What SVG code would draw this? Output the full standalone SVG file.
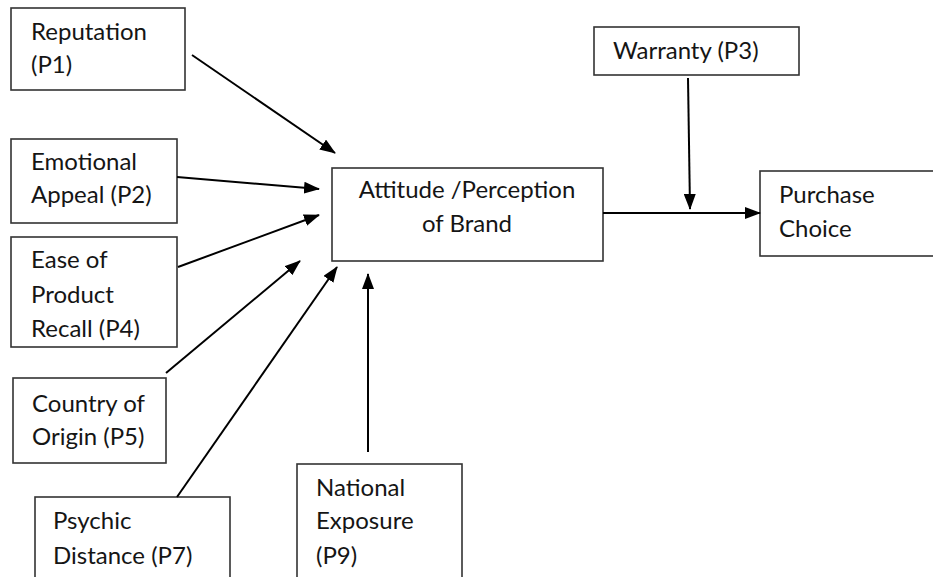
<svg xmlns="http://www.w3.org/2000/svg" width="933" height="577" viewBox="0 0 933 577">
<defs>
<marker id="ah" markerWidth="16" markerHeight="12" viewBox="0 0 16 12" refX="15" refY="6" orient="auto" markerUnits="userSpaceOnUse">
<path d="M0,0 L16,6 L0,12 Z" fill="#000"/>
</marker>
</defs>
<style>
.box{fill:#fff;stroke:#333;stroke-width:1.6}
.t{font-family:Lato,"Open Sans","Liberation Sans",sans-serif;font-size:24px;fill:#151515}
.c{stroke:#000;stroke-width:2;fill:none;marker-end:url(#ah)}
</style>
<rect width="933" height="577" fill="#fff"/>
<g id="reputation"><rect class="box" x="11" y="8" width="174" height="82"/><text class="t" x="31" y="40">Reputation</text><text class="t" x="31" y="73">(P1)</text></g>
<g id="emotional"><rect class="box" x="11" y="139" width="166" height="84"/><text class="t" x="31" y="170">Emotional</text><text class="t" x="31" y="203">Appeal (P2)</text></g>
<g id="ease"><rect class="box" x="11" y="237" width="166" height="110"/><text class="t" x="31" y="268">Ease of</text><text class="t" x="31" y="303">Product</text><text class="t" x="31" y="337">Recall (P4)</text></g>
<g id="country"><rect class="box" x="13" y="378" width="153" height="85"/><text class="t" x="32" y="412">Country of</text><text class="t" x="32" y="445">Origin (P5)</text></g>
<g id="psychic"><rect class="box" x="35" y="497" width="195" height="90"/><text class="t" x="53" y="529">Psychic</text><text class="t" x="53" y="564">Distance (P7)</text></g>
<g id="national"><rect class="box" x="297" y="464" width="165" height="123"/><text class="t" x="316" y="496">National</text><text class="t" x="316" y="529">Exposure</text><text class="t" x="316" y="564">(P9)</text></g>
<g id="attitude"><rect class="box" x="332" y="168" width="271" height="93"/><text class="t" x="467" y="198" text-anchor="middle">Attitude /Perception</text><text class="t" x="467" y="232" text-anchor="middle">of Brand</text></g>
<g id="warranty"><rect class="box" x="594" y="27" width="205" height="48"/><text class="t" x="613" y="59">Warranty (P3)</text></g>
<g id="purchase"><rect class="box" x="760" y="171" width="180" height="85"/><text class="t" x="779" y="203">Purchase</text><text class="t" x="779" y="237">Choice</text></g>
<g id="connectors">
<line class="c" x1="192" y1="55" x2="335" y2="153"/>
<line class="c" x1="177" y1="177" x2="319" y2="189"/>
<line class="c" x1="178" y1="267" x2="319" y2="215"/>
<line class="c" x1="166" y1="373" x2="300" y2="261"/>
<line class="c" x1="177" y1="497" x2="337" y2="267"/>
<line class="c" x1="368" y1="452" x2="368" y2="274"/>
<line class="c" x1="603" y1="213" x2="760" y2="213"/>
<line class="c" x1="688" y1="78" x2="690" y2="209"/>
</g>
</svg>
